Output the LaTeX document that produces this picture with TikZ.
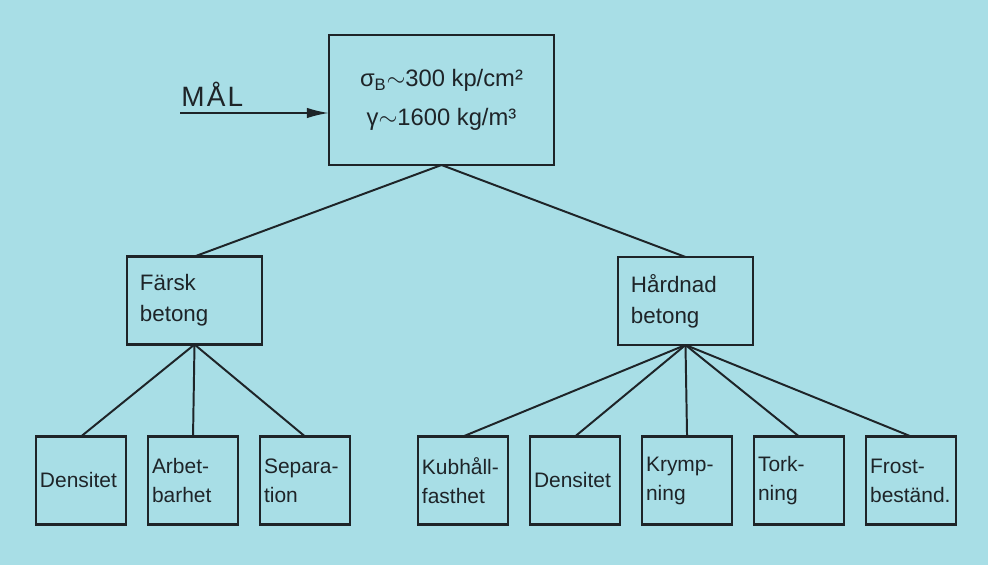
\documentclass[tikz,border=0pt]{standalone}
\usepackage{fontspec}
\setmainfont{Liberation Sans}
\usetikzlibrary{arrows.meta, positioning}
\definecolor{sheet}{RGB}{168,222,230}
\definecolor{ink}{RGB}{30,36,40}

\begin{document}
\begin{tikzpicture}[x=0.025cm, y=-0.025cm, node distance=0.55cm,
    box/.style={draw=ink, line width=1.9pt, outer sep=0pt, text=ink, align=left},
    leaf/.style={box, text width=2.05cm, inner xsep=0.1cm, minimum height=2.2cm, font=\fontsize{14.9}{20.6}\selectfont},
    group/.style={box, text width=2.725cm, inner xsep=0.325cm, minimum height=2.2cm, font=\fontsize{15.9}{22}\selectfont},
    link/.style={draw=ink, line width=1.4pt}]
    \fill[sheet] (0,0) rectangle (988,565);
    \useasboundingbox (0,0) rectangle (988,565);

    % goal and the two groups
    \node[box, align=center, minimum width=5.625cm, minimum height=3.25cm, font=\fontsize{16.9}{27.7}\selectfont] (goal) at (441.5,100) {σ\textsubscript{B}$\sim$300 kp/cm²\\γ$\sim$1600 kg/m³};
    \node[group] (fresh) at (194.5,300.5) {Färsk\\betong};
    \node[group] (hard) at (685.5,301) {Hårdnad\\betong};

    % leaves
    \node[leaf] (dens1) at (81,480.5) {Densitet};
    \node[leaf, right=of dens1] (arbet) {Arbet-\\barhet};
    \node[leaf, right=of arbet] (separ) {Separa-\\tion};
    \node[leaf] (kub) at (463,480.5) {Kubhåll-\\fasthet};
    \node[leaf, right=of kub] (dens2) {Densitet};
    \node[leaf, right=of dens2] (krymp) {Krymp-\\ning};
    \node[leaf, right=of krymp] (tork) {Tork-\\ning};
    \node[leaf, right=of tork] (frost) {Frost-\\beständ.};

    \draw[link] (goal.south) -- (fresh.north);
    \draw[link] (goal.south) -- (hard.north);
    \foreach \leafname in {dens1,arbet,separ}
        \draw[link] (fresh.south) -- (\leafname.north);
    \foreach \leafname in {kub,dens2,krymp,tork,frost}
        \draw[link] (hard.south) -- (\leafname.north);

    % MÅL arrow
    \coordinate (malstart) at (180,113);
    \draw[link, -{Latex[length=0.55cm, width=0.26cm]}] (malstart) -- (malstart -| goal.west);
    \node[anchor=base west, inner sep=0, text=ink, font=\fontsize{19.9}{24}\selectfont\addfontfeatures{LetterSpace=8}] (mal) at (181,107) {MÅL};
\end{tikzpicture}
\end{document}
